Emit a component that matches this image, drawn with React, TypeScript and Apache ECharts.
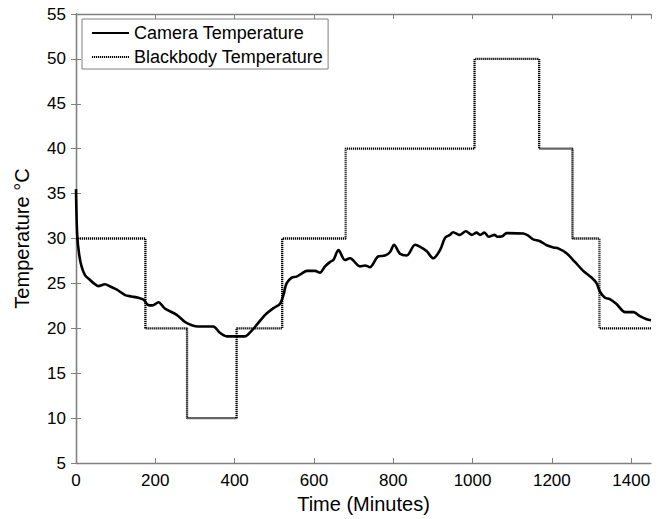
import React, { useEffect, useRef } from "react";
import * as echarts from "echarts";

const cameraTime = [0, 3, 8, 14, 23, 35, 45, 56, 73, 86, 103, 124, 140, 157, 170, 182, 193, 208, 224, 254, 275, 292, 308, 317, 346, 363, 380, 426, 439, 456, 477, 498, 514, 523, 531, 544, 556, 569, 582, 603, 615, 628, 641, 649, 662, 678, 691, 716, 729, 741, 762, 779, 792, 802, 817, 834, 855, 867, 884, 901, 918, 931, 943, 951, 968, 983, 998, 1010, 1019, 1030, 1041, 1055, 1063, 1075, 1086, 1128, 1141, 1153, 1170, 1187, 1204, 1216, 1237, 1258, 1279, 1300, 1313, 1321, 1334, 1346, 1363, 1385, 1406, 1422, 1439, 1450];
const cameraTemp = [35.5, 30.4, 28.2, 26.9, 25.9, 25.4, 25.0, 24.7, 24.9, 24.65, 24.3, 23.7, 23.55, 23.4, 23.2, 22.6, 22.55, 22.9, 22.2, 21.5, 20.7, 20.35, 20.2, 20.2, 20.2, 19.5, 19.1, 19.1, 19.55, 20.4, 21.5, 22.25, 22.7, 23.7, 25.0, 25.65, 25.75, 26.1, 26.4, 26.4, 26.2, 26.9, 27.4, 27.6, 28.7, 27.6, 27.8, 26.9, 27.0, 26.8, 28.0, 28.1, 28.5, 29.3, 28.3, 28.1, 29.3, 29.1, 28.6, 27.8, 28.7, 30.1, 30.4, 30.7, 30.4, 30.8, 30.4, 30.65, 30.4, 30.65, 30.2, 30.4, 30.2, 30.25, 30.6, 30.55, 30.3, 29.9, 29.7, 29.25, 29.0, 28.9, 28.35, 27.4, 26.4, 25.65, 25.0, 24.1, 23.4, 23.25, 22.7, 21.8, 21.8, 21.35, 21.0, 20.9];

const blackbodyTime = [0, 175, 280, 405, 520, 680, 1005, 1168, 1252, 1320, 1450];
const blackbodyTemp = [30, 20, 10, 20, 30, 40, 50, 40, 30, 20, 20];

const xTicks = { min: 0, max: 1450, interval: 200 };
const yTicks = { min: 5, max: 55, interval: 5 };

const FONT = "'Liberation Sans', Arial, Helvetica, sans-serif";
const AXIS_COLOR = "#808080";

export default function App() {
  const ref = useRef<HTMLDivElement>(null);
  useEffect(() => {
    if (!ref.current) return;
    const chart = echarts.init(ref.current, null, { renderer: "svg" });
    const tickStyle = { inside: true, length: 5, lineStyle: { color: AXIS_COLOR, width: 1 } };
    const lineAx = { show: true, lineStyle: { color: AXIS_COLOR, width: 1.3 } };
    chart.setOption({
      animation: false,
      backgroundColor: "#ffffff",
      textStyle: { fontFamily: FONT },
      grid: { left: 76, right: 9, top: 14, bottom: 53, containLabel: false },
      legend: {
        left: 82,
        top: 19,
        orient: "vertical",
        itemWidth: 37,
        itemHeight: 14,
        itemGap: 4,
        padding: [4, 5, 2, 9],
        borderColor: "#808080",
        borderWidth: 1,
        backgroundColor: "#ffffff",
        itemStyle: { opacity: 0, borderWidth: 0 },
        textStyle: { fontFamily: FONT, fontSize: 18, color: "#000", lineHeight: 20 },
        data: ["Camera Temperature", "Blackbody Temperature"],
      },
      xAxis: [
        {
          type: "value",
          min: xTicks.min,
          max: xTicks.max,
          interval: xTicks.interval,
          position: "bottom",
          name: "Time (Minutes)",
          nameLocation: "middle",
          nameGap: 31,
          nameTextStyle: { fontFamily: FONT, fontSize: 20, color: "#000" },
          axisLine: lineAx,
          axisTick: tickStyle,
          splitLine: { show: false },
          axisLabel: {
            fontFamily: FONT,
            fontSize: 17,
            color: "#000",
            margin: 9,
            showMaxLabel: false,
            formatter: (v: number) => String(v),
          },
        },
        {
          type: "value",
          min: xTicks.min,
          max: xTicks.max,
          interval: xTicks.interval,
          position: "top",
          axisLine: lineAx,
          axisTick: tickStyle,
          splitLine: { show: false },
          axisLabel: { show: false },
        },
      ],
      yAxis: [
        {
          type: "value",
          min: yTicks.min,
          max: yTicks.max,
          interval: yTicks.interval,
          position: "left",
          name: "Temperature °C",
          nameLocation: "middle",
          nameGap: 44,
          nameTextStyle: { fontFamily: FONT, fontSize: 20, color: "#000" },
          axisLine: lineAx,
          axisTick: tickStyle,
          splitLine: { show: false },
          axisLabel: { fontFamily: FONT, fontSize: 17, color: "#000", margin: 10 },
        },
        {
          type: "value",
          min: yTicks.min,
          max: yTicks.max,
          interval: yTicks.interval,
          position: "right",
          axisLine: lineAx,
          axisTick: tickStyle,
          splitLine: { show: false },
          axisLabel: { show: false },
        },
      ],
      series: [
        {
          name: "Camera Temperature",
          type: "line",
          xAxisIndex: 0,
          yAxisIndex: 0,
          symbol: "none",
          smooth: 0.3,
          data: cameraTime.map((t, i) => [t, cameraTemp[i]]),
          lineStyle: { color: "#000", width: 2.6 },
          itemStyle: { color: "#000" },
          z: 3,
        },
        {
          name: "Blackbody Temperature",
          type: "line",
          xAxisIndex: 0,
          yAxisIndex: 0,
          symbol: "none",
          step: "end",
          data: blackbodyTime.map((t, i) => [t, blackbodyTemp[i]]),
          lineStyle: { color: "#000", width: 2.3, type: [1.2, 0.8] },
          itemStyle: { color: "#000" },
          z: 2,
        },
      ],
    });
    return () => chart.dispose();
  }, []);
  return <div ref={ref} style={{ width: 660, height: 519, position: "absolute", left: 0, top: 0 }} />;
}
